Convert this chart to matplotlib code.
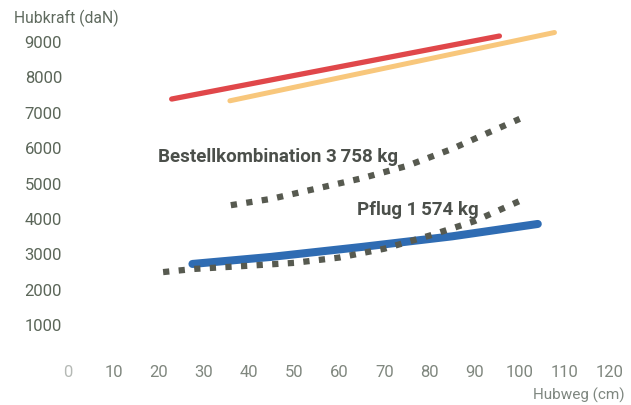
"""
Hubkraft vs Hubweg chart.
"""
import matplotlib
matplotlib.use("Agg")
import matplotlib.pyplot as plt

# --- data ---
red_x = [22.9, 95.5]
red_y = [7360, 9140]

yellow_x = [35.8, 107.7]
yellow_y = [7310, 9240]

blue_x = [27.5, 45, 65, 85, 104]
blue_y = [2700, 2900, 3180, 3480, 3830]

bestell_x = [36, 45, 55, 65, 75, 85, 92, 100]
bestell_y = [4360, 4540, 4830, 5120, 5470, 5950, 6350, 6800]

pflug_x = [21, 28, 40, 50, 60, 70, 80, 90, 100]
pflug_y = [2470, 2560, 2650, 2730, 2880, 3130, 3500, 3910, 4480]

x_ticks = list(range(0, 121, 10))
y_ticks = list(range(1000, 9001, 1000))

label_bestell = "Bestellkombination 3\u2009758 kg"
label_pflug = "Pflug 1\u2009574 kg"

FAM = ["Roboto", "DejaVu Sans"]

fig = plt.figure(figsize=(6.31, 4.06), dpi=100)
ax = fig.add_axes([68.3 / 631, (406 - 360.5) / 406, (610 - 68.3) / 631, (360.5 - 24.3) / 406])
ax.set_xlim(0, 120)
ax.set_ylim(0, 9500)

ax.plot(red_x, red_y, color="#e0474a", lw=3.8, solid_capstyle="round", zorder=3)
ax.plot(yellow_x, yellow_y, color="#f8c77c", lw=3.6, solid_capstyle="round", zorder=3)
ax.plot(blue_x, blue_y, color="#2f6cb3", lw=5.8, solid_capstyle="round", zorder=3)

for xs, ys in [(bestell_x, bestell_y), (pflug_x, pflug_y)]:
    ax.plot(xs, ys, color="#575a50", lw=4.5, dashes=(1, 1.5),
            dash_capstyle="butt", zorder=4)

ax.text(19.8, 5750, label_bestell, fontsize=13.5, fontweight="bold",
        color="#4b4f4a", va="center", ha="left", family=FAM, zorder=5)
ax.text(63.9, 4250, label_pflug, fontsize=13.5, fontweight="bold",
        color="#4b4f4a", va="center", ha="left", family=FAM, zorder=5)

for s in ax.spines.values():
    s.set_visible(False)
ax.set_xticks(x_ticks)
ax.set_yticks(y_ticks)
ax.tick_params(axis="both", length=0)
ax.tick_params(axis="y", pad=4.5, labelsize=12, labelcolor="#5b6659")
ax.tick_params(axis="x", pad=3.5, labelsize=12, labelcolor="#80877f")
for lab in ax.get_xticklabels() + ax.get_yticklabels():
    lab.set_family(FAM)
ax.get_xticklabels()[0].set_color("#b5b9b5")

fig.text(14 / 631, 1 - 18 / 406, "Hubkraft (daN)", fontsize=11.3, color="#5f6a5e",
         va="center", ha="left", family=FAM)
fig.text(625 / 631, 1 - 395 / 406, "Hubweg (cm)", fontsize=11, color="#7f8780",
         va="center", ha="right", family=FAM)

fig.savefig("out.png", dpi=100)
